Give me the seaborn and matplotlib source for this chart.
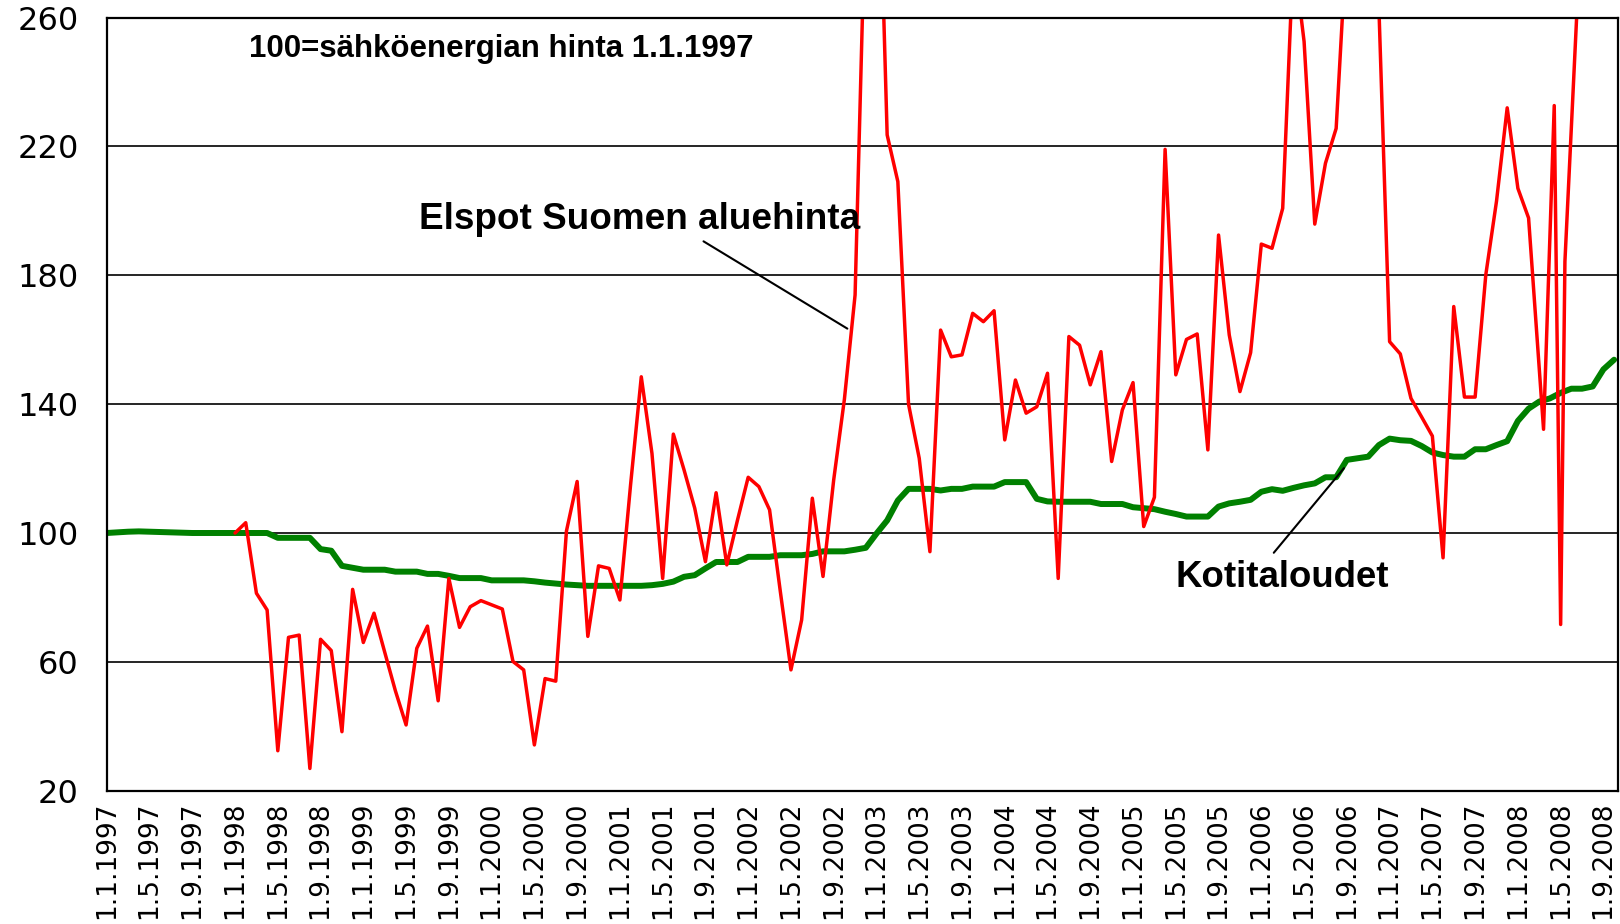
import numpy as np
import pandas as pd
import matplotlib
matplotlib.use("Agg")
from matplotlib import pyplot as plt
import seaborn as sns

# Monthly index, 100 = electricity energy price on 1.1.1997
months = pd.date_range("1997-01-01", "2008-10-01", freq="MS")

# Kotitaloudet (households), one value per month 1.1.1997 - 1.10.2008
kotitaloudet = [
    100.0, 100.2, 100.4, 100.5, 100.4, 100.3, 100.2, 100.1, 100.0, 100.0, 100.0, 100.0,
    100.0, 100.0, 100.0, 100.0, 98.5, 98.5, 98.5, 98.5, 95.0, 94.5, 89.8, 89.2,
    88.6, 88.6, 88.6, 88.0, 88.0, 88.0, 87.3, 87.3, 86.7, 86.0, 86.0, 86.0,
    85.3, 85.3, 85.3, 85.3, 85.0, 84.6, 84.3, 84.0, 83.8, 83.6, 83.6, 83.6,
    83.6, 83.6, 83.6, 83.8, 84.2, 84.9, 86.4, 86.9, 89.0, 91.0, 91.0, 91.0,
    92.6, 92.6, 92.6, 93.1, 93.1, 93.1, 93.5, 94.3, 94.3, 94.3, 94.8, 95.4,
    99.8, 103.9, 110.1, 113.7, 113.7, 113.7, 113.2, 113.7, 113.7, 114.4, 114.4, 114.4,
    115.8, 115.8, 115.8, 110.6, 109.8, 109.7, 109.7, 109.7, 109.7, 109.0, 109.0, 109.0,
    108.0, 107.7, 107.4, 106.6, 105.9, 105.1, 105.1, 105.1, 108.2, 109.2, 109.7, 110.3,
    112.8, 113.6, 113.1, 114.0, 114.8, 115.4, 117.3, 117.3, 122.7, 123.2, 123.7, 127.3,
    129.3, 128.8, 128.6, 127.0, 125.0, 124.2, 123.7, 123.7, 126.0, 126.0, 127.3, 128.5,
    134.8, 138.6, 140.8, 141.8, 143.5, 144.8, 144.8, 145.5, 150.8, 153.8,
]

# Elspot Suomen aluehinta, monthly from 1.1.1998 to 1.2.2008
elspot_start = 12
elspot = [
    100.0, 103.2, 81.3, 76.1, 32.4, 67.6, 68.3, 26.9, 67.0, 63.5, 38.3, 82.5,
    66.0, 75.1, 63.0, 51.0, 40.4, 64.2, 71.1, 47.9, 85.9, 70.7, 77.1, 79.0,
    77.7, 76.4, 60.1, 57.5, 34.2, 54.8, 54.0, 100.6, 116.0, 67.9, 89.8, 89.0,
    79.2, 115.0, 148.5, 124.7, 85.9, 130.7, 119.6, 107.7, 91.1, 112.5, 90.1, 104.0,
    117.3, 114.4, 107.2, 82.0, 57.5, 73.0, 110.8, 86.5, 116.5, 141.5, 173.9, 300.0,
    340.0, 223.6, 209.1, 140.0, 123.2, 94.2, 163.0, 154.7, 155.3, 168.2, 165.6, 169.0,
    128.9, 147.5, 137.2, 139.2, 149.6, 85.9, 161.0, 158.3, 146.0, 156.3, 122.2, 138.2,
    146.7, 102.0, 111.1, 219.1, 149.1, 160.1, 161.8, 125.8, 192.5, 161.5, 143.9, 156.0,
    189.7, 188.4, 200.8, 280.0, 252.6, 195.9, 214.8, 225.6, 285.0, 310.0, 300.0, 263.0,
    159.4, 155.6, 141.8, 136.0, 130.1, 92.3, 170.3, 142.2, 142.2, 180.2, 203.0, 232.0,
    207.0, 197.8,
]
# spring 2008 readings do not sit on month starts (months since 1.1.1997)
elspot_tail_month = [134.4, 135.4, 136.0, 136.4, 138.0]
elspot_tail = [132.2, 232.7, 71.6, 184.3, 295.0]

y_ticks = [20, 60, 100, 140, 180, 220, 260]
tick_labels = [f"{d.day}.{d.month}.{d.year}" for d in months[::4]]

koti_df = pd.DataFrame({"kk": np.arange(len(months)), "indeksi": kotitaloudet})
spot_df = pd.DataFrame({
    "kk": list(np.arange(elspot_start, elspot_start + len(elspot))) + elspot_tail_month,
    "indeksi": elspot + elspot_tail,
})

sns.set_style("white")
plt.rcParams["font.family"] = ["DejaVu Sans"]

fig = plt.figure(figsize=(16.2, 9.24), dpi=100)
ax = fig.add_axes([0.0659, 0.1443, 0.9329, 0.8366])

sns.lineplot(data=koti_df, x="kk", y="indeksi", color="#008000", linewidth=4.3, ax=ax,
             sort=False, estimator=None)
sns.lineplot(data=spot_df, x="kk", y="indeksi", color="#FF0000", linewidth=2.5, ax=ax,
             sort=False, estimator=None)

ax.set_xlim(0, 141.37)
ax.set_ylim(20, 260)
ax.set_yticks(y_ticks)
ax.set_yticklabels([str(v) for v in y_ticks], fontsize=23)
ax.set_xticks(np.arange(len(months))[::4])
ax.set_xticklabels(tick_labels, rotation=90, fontsize=19, ha="center", va="top")
ax.set_xlabel("")
ax.set_ylabel("")

ax.grid(axis="y", color="black", linewidth=1.2)
ax.grid(axis="x", visible=False)
for s in ax.spines.values():
    s.set_color("black")
    s.set_linewidth(1.6)
ax.tick_params(axis="y", direction="out", length=8, width=1.5, pad=12, colors="black")
ax.tick_params(axis="x", direction="out", length=6, width=1.5, pad=2, colors="black")
ax.set_axisbelow(True)

bold = dict(family="Liberation Sans", fontweight="bold", color="black", va="baseline", ha="left")
ax.text(13.3, 247.9, "100=sähköenergian hinta 1.1.1997", fontsize=22.5, **bold)
ax.text(29.2, 194.4, "Elspot Suomen aluehinta", fontsize=26.6, **bold)
ax.text(100.0, 83.1, "Kotitaloudet", fontsize=26.4, **bold)

ax.annotate("", xy=(69.5, 163.0), xytext=(55.6, 191.0),
            arrowprops=dict(arrowstyle="-", color="black", lw=1.5))
ax.annotate("", xy=(115.9, 120.8), xytext=(109.0, 93.2),
            arrowprops=dict(arrowstyle="-", color="black", lw=1.5))

fig.savefig("out.png", dpi=100)
